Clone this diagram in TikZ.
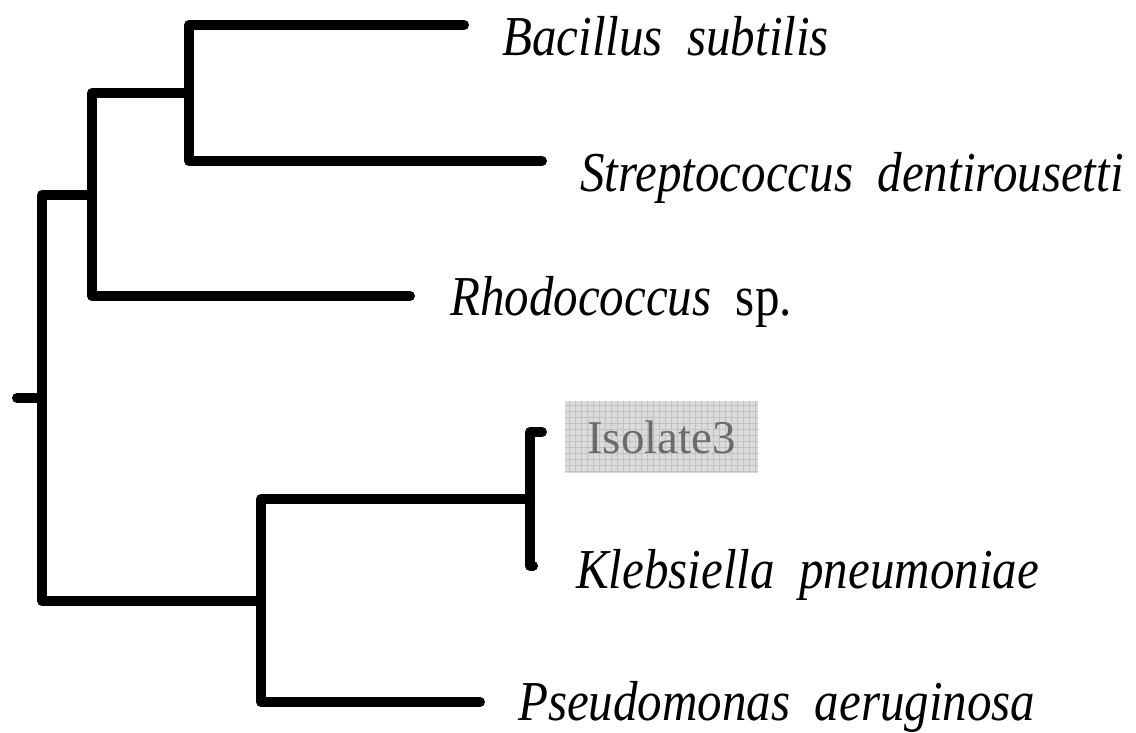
\documentclass[tikz,border=0pt]{standalone}
\usepackage{fontspec}
\setmainfont{Liberation Serif}
\newcommand{\taxon}[1]{\scalebox{1}[1.15]{\itshape #1}}

\begin{document}
\begin{tikzpicture}[x=1pt,y=-1pt,
	branch/.style={line width=10pt,line cap=round,line join=round},
	leaf/.style={anchor=base west,inner sep=0pt,font=\fontsize{49}{58}\selectfont}]
	\useasboundingbox (0,0) rectangle (1136,732);
	% inner nodes
	\coordinate (root) at (17,398);
	\coordinate (n1) at (42,398);
	\coordinate (n2) at (92,195);
	\coordinate (n3) at (189,93);
	\coordinate (n4) at (261,601);
	\coordinate (n5) at (530,499);
	% tips
	\coordinate (bsTip) at (464,25);
	\coordinate (sdTip) at (542,161);
	\coordinate (rsTip) at (410,296);
	\coordinate (isTip) at (542,432);
	\coordinate (kpTip) at (533,566);
	\coordinate (paTip) at (480,702);
	% branches
	\draw[branch] (root) -- (n1);
	\draw[branch] (n1) |- (n2);
	\draw[branch] (n1) |- (n4);
	\draw[branch] (n2) |- (n3);
	\draw[branch] (n2) |- (rsTip);
	\draw[branch] (n3) |- (bsTip);
	\draw[branch] (n3) |- (sdTip);
	\draw[branch] (n4) |- (n5);
	\draw[branch] (n4) |- (paTip);
	\draw[branch] (n5) |- (isTip);
	\draw[branch] (n5) |- (kpTip);
	% labels
	\node[leaf] (bs) at (502,55) {\taxon{Bacillus~~subtilis}};
	\node[leaf] (sd) at (580,191) {\taxon{Streptococcus~~dentirousetti}};
	\node[leaf] (rs) at (450,315) {\taxon{Rhodococcus~~\upshape sp.}};
	\node[leaf] (kp) at (576,588) {\taxon{Klebsiella~~pneumoniae}};
	\node[leaf] (pa) at (518,720) {\taxon{Pseudomonas~~aeruginosa}};
	\node[fill=black!14,text=black!58,inner sep=0pt,minimum width=193pt,minimum height=72pt,
		font=\fontsize{47}{56}\selectfont,
		path picture={\draw[black!24,line width=0.6pt,step=6pt] (path picture bounding box.south west) grid (path picture bounding box.north east);}]
		(is) at (661.5,437) {Isolate3};
\end{tikzpicture}
\end{document}
